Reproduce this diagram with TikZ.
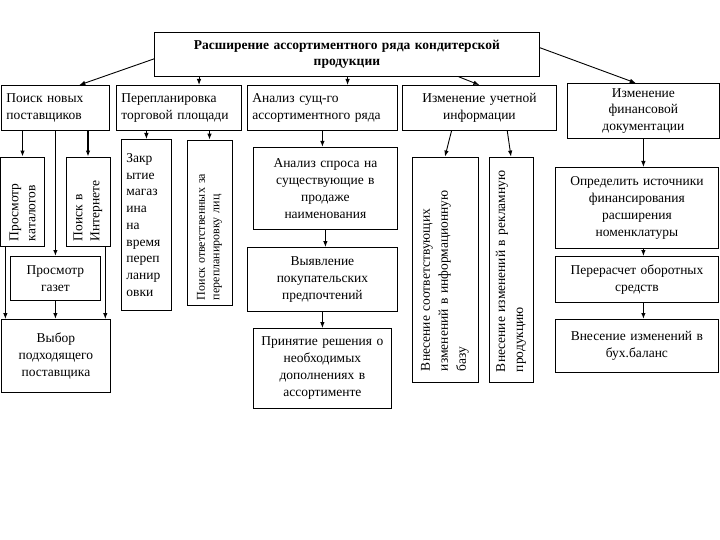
\documentclass[tikz,border=0pt]{standalone}
\usepackage{fontspec}
\setmainfont{Liberation Serif}
\usetikzlibrary{calc,arrows.meta}
\tikzset{>={Latex[length=6pt,width=4.5pt]}}

\begin{document}
\begin{tikzpicture}[x=1pt,y=-1pt,
  blk/.style={draw,line width=0.8pt,inner xsep=5pt,inner ysep=2pt,font=\fontsize{13.5}{17}\selectfont},
  vblk/.style={blk,rotate=90,align=left},
  conn/.style={->,line width=0.9pt},
  bold conn/.style={->,line width=1.6pt}]
  \useasboundingbox (0,0) rectangle (720,540);

  % Header
  \node[blk,anchor=north west,text width=375pt,minimum height=44pt,align=center,
    font=\bfseries\fontsize{13.5}{16}\selectfont] (head) at (154,32)
    {Расширение ассортиментного ряда кондитерской\\продукции};

  % First level
  \node[blk,anchor=north west,text width=98pt,minimum height=45pt,align=left] (poisk) at (1,85) {Поиск новых\\поставщиков};
  \node[blk,anchor=north west,text width=115pt,minimum height=45pt,align=left] (pereplan) at (116,85) {Перепланировка\\торговой площади};
  \node[blk,anchor=north west,text width=140pt,minimum height=45pt,align=left] (analiz) at (247,85) {Анализ сущ-го\\ассортиментного ряда};
  \node[blk,anchor=north west,text width=144pt,minimum height=45pt,align=center] (uchet) at (402,85) {Изменение учетной\\информации};
  \node[blk,anchor=north west,text width=142pt,minimum height=55pt,align=center,
    font=\fontsize{13.5}{16.5}\selectfont] (finans) at (567,83) {Изменение\\финансовой\\документации};

  % Suppliers
  \node[vblk,text width=79pt,minimum height=44pt] (katalog) at (22.5,201.5) {Просмотр\\каталогов};
  \node[vblk,text width=79pt,minimum height=44pt] (internet) at (88,201.5) {Поиск в\\Интернете};
  \node[blk,anchor=north west,text width=80pt,minimum height=44pt,align=center] (gazety) at (10,256) {Просмотр\\газет};
  \node[blk,anchor=north west,text width=99pt,minimum height=73pt,align=center] (vybor) at (1,319) {Выбор\\подходящего\\поставщика};

  % Replanning
  \node[blk,anchor=north west,text width=40pt,minimum height=171pt,align=left,
    font=\fontsize{13.5}{16.7}\selectfont] (zakr) at (121,139)
    {Закр\\ытие\\магаз\\ина\\на\\время\\переп\\ланир\\овки};
  \node[vblk,text width=155pt,minimum height=45pt,font=\fontsize{12}{14.5}\selectfont] (otvet) at (209.5,222.5)
    {Поиск ответственных за\\перепланировку лиц};

  % Assortment
  \node[blk,anchor=north west,text width=134pt,minimum height=82pt,align=center] (spros) at (253,147)
    {Анализ спроса на\\существующие в\\продаже\\наименования};
  \node[blk,anchor=north west,text width=140pt,minimum height=64pt,align=center] (vyyav) at (247,247)
    {Выявление\\покупательских\\предпочтений};
  \node[blk,anchor=north west,text width=128pt,minimum height=80pt,align=center] (prinyat) at (253,328)
    {Принятие решения о\\необходимых\\дополнениях в\\ассортименте};

  % Accounting
  \node[vblk,inner xsep=11pt,text width=203pt,minimum height=66pt,font=\fontsize{13.5}{18}\selectfont] (vnes1) at (445,269.5)
    {Внесение соответствующих\\изменений в информационную\\базу};
  \node[vblk,inner xsep=10pt,text width=205pt,minimum height=44pt,font=\fontsize{13.5}{18}\selectfont] (vnes2) at (511,269.5)
    {Внесение изменений в рекламную\\продукцию};

  % Finance
  \node[blk,anchor=north west,text width=153pt,minimum height=81pt,align=center] (opred) at (555,167)
    {Определить источники\\финансирования\\расширения\\номенклатуры};
  \node[blk,anchor=north west,text width=153pt,minimum height=46pt,align=center] (pereras) at (555,256)
    {Перерасчет оборотных\\средств};
  \node[blk,anchor=north west,text width=153pt,minimum height=53pt,align=center] (buh) at (555,319)
    {Внесение изменений в\\бух.баланс};

  % From header
  \coordinate (pp) at ($(pereplan.north west)!.66!(pereplan.north east)$);
  \coordinate (an) at ($(analiz.north west)!.667!(analiz.north east)$);
  \draw[conn] ($(head.north west)!.6!(head.south west)$) -- ($(poisk.north west)!.72!(poisk.north east)$);
  \draw[conn] (head.south -| pp) -- (pp);
  \draw[conn] (head.south -| an) -- (an);
  \draw[conn] ($(head.south west)!.79!(head.south east)$) -- (uchet.north);
  \draw[conn] ($(head.north east)!.35!(head.south east)$) -- ($(finans.north west)!.45!(finans.north east)$);

  % Suppliers (rotated boxes: east is the top, west the bottom)
  \coordinate (k1) at ($(vybor.north west)!.04!(vybor.north east)$);
  \coordinate (k3) at ($(vybor.north west)!.95!(vybor.north east)$);
  \draw[bold conn] (poisk.south -| katalog.east) -- (katalog.east);
  \draw[bold conn] (poisk.south -| internet.east) -- (internet.east);
  \draw[bold conn] (poisk.south -| gazety.north) -- (gazety.north);
  \draw[conn] (katalog.west -| k1) -- (k1);
  \draw[conn] (internet.west -| k3) -- (k3);
  \draw[bold conn] (gazety.south) -- (gazety.south |- vybor.north);

  % Replanning
  \draw[conn] (pereplan.south -| zakr.north) -- (zakr.north);
  \draw[conn] (pereplan.south -| otvet.east) -- (otvet.east);

  % Assortment
  \draw[bold conn] (analiz.south) -- (analiz.south |- spros.north);
  \draw[conn] (spros.south) -- (spros.south |- vyyav.north);
  \draw[conn] (vyyav.south) -- (vyyav.south |- prinyat.north);

  % Accounting
  \draw[conn] ($(uchet.south west)!.32!(uchet.south east)$) -- (vnes1.east);
  \draw[conn] ($(uchet.south west)!.68!(uchet.south east)$) -- (vnes2.east);

  % Finance
  \draw[conn] (finans.south) -- (finans.south |- opred.north);
  \draw[conn] (finans.south |- opred.south) -- (finans.south |- pereras.north);
  \draw[bold conn] (finans.south |- pereras.south) -- (finans.south |- buh.north);
\end{tikzpicture}
\end{document}
